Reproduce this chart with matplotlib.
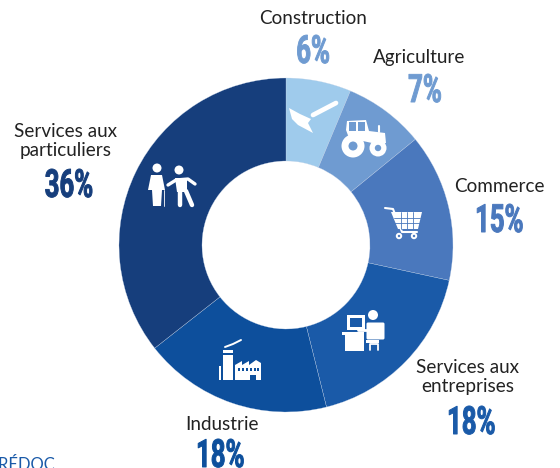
import matplotlib
matplotlib.use('Agg')
import matplotlib.pyplot as plt
from matplotlib.patches import Circle, Polygon, Rectangle, FancyBboxPatch
from matplotlib.patheffects import AbstractPathEffect
from matplotlib.transforms import Affine2D

# parts measured on the ring, the printed labels are rounded
sectors = ['Construction', 'Agriculture', 'Commerce', 'Services aux\nentreprises', 'Industrie', 'Services aux\nparticuliers']
shares = [6.3, 7.8, 14.3, 17.7, 18.3, 35.6]
percent_labels = ['6%', '7%', '15%', '18%', '18%', '36%']
colors = ['#9fcbec', '#6f9bd1', '#4a78bd', '#1a5aa8', '#0d4f9c', '#163e7c']
text_colors = ['#6f9bd1', '#6f9bd1', '#4a78bd', '#1a5aa8', '#0d4f9c', '#163e7c']

H = 468
WHITE = 'white'


class Narrow(AbstractPathEffect):
    # no condensed font installed, so squeeze the glyphs around their middle and thicken them a bit
    def __init__(self, factor, extra):
        super().__init__()
        self.factor = factor
        self.extra = extra

    def draw_path(self, renderer, gc, tpath, affine, rgbFace=None):
        mid = tpath.get_extents().x0 + tpath.get_extents().width / 2
        squeeze = Affine2D().translate(-mid, 0).scale(self.factor, 1).translate(mid, 0)
        gc0 = renderer.new_gc()
        gc0.copy_properties(gc)
        gc0.set_foreground(gc.get_rgb(), isRGBA=True)
        gc0.set_linewidth(self.extra)
        renderer.draw_path(gc0, tpath, squeeze + affine, rgbFace)
        gc0.restore()


fig = plt.figure(figsize=(5.6, 4.68), dpi=100)
ax = fig.add_axes([0, 0, 1, 1])

ax.pie(shares, colors=colors, startangle=90, counterclock=False, center=(286, H - 245), radius=167,
       wedgeprops=dict(width=83, edgecolor='#c8d6ea', linewidth=0.2))
ax.set_xlim(0, 560)
ax.set_ylim(0, H)
ax.set_aspect('equal')
ax.axis('off')


def poly(points, color=WHITE):
    ax.add_patch(Polygon([(x, H - y) for x, y in points], closed=True, fc=color, ec='none', zorder=5))


def rect(x, y, w, h, color=WHITE):
    ax.add_patch(Rectangle((x, H - y - h), w, h, fc=color, ec='none', zorder=5))


def disc(x, y, r, color=WHITE):
    ax.add_patch(Circle((x, H - y), r, fc=color, ec='none', zorder=6))


def stroke(points, lw=2.0, color=WHITE):
    ax.plot([p[0] for p in points], [H - p[1] for p in points], color=color, lw=lw,
            solid_capstyle='round', solid_joinstyle='round', zorder=5)


# hoe
stroke([(313, 115), (336, 103)], lw=3.4)
poly([(289, 108), (300, 114), (311, 119), (308, 123), (313, 133), (298, 125), (292, 119)])

# tractor
poly([(347, 121), (366, 120), (369, 131), (385, 133), (386, 143), (372, 143), (349, 138), (346, 130)])
stroke([(379, 126), (379, 132)], lw=1.5)
rect(349, 122, 7, 9, '#6f9bd1')
rect(358, 122, 7, 9, '#6f9bd1')
disc(353, 146, 11.5)
disc(353, 146, 4.5, '#6f9bd1')
disc(378, 148, 8.5)
disc(378, 148, 3.2, '#6f9bd1')

# cart
stroke([(385, 208), (393, 209), (402, 232), (417, 232)], lw=1.5)
poly([(391, 212), (422, 212), (418, 229), (398, 229)])
for gx in (401, 407, 413):
    stroke([(gx, 212), (gx, 229)], lw=0.6, color='#4a78bd')
for gy in (218, 223):
    stroke([(394, gy), (420, gy)], lw=0.6, color='#4a78bd')
disc(399, 236, 3.2)
disc(414, 236, 3.2)
disc(399, 236, 1.2, '#4a78bd')
disc(414, 236, 1.2, '#4a78bd')

# desk worker
disc(373, 315, 5)
rect(347, 315, 18, 15)
rect(350, 318, 12, 9, '#1a5aa8')
rect(342, 332, 22, 3)
rect(345, 335, 19, 16)
ax.add_patch(FancyBboxPatch((368, H - 338), 15, 14, boxstyle='round,pad=1.5', fc=WHITE, ec='none', zorder=5))
stroke([(358, 330), (369, 330)], lw=2)
rect(366, 340, 13, 3)
stroke([(370, 350), (370, 344), (378, 344), (378, 350)], lw=1.3)

# factory
stroke([(225, 347), (233, 344), (241, 340)], lw=1.4)
rect(223, 350, 10, 3)
rect(223, 355, 10, 25)
rect(219, 366, 2, 14)
poly([(235, 380), (235, 365), (242, 361), (242, 365), (249, 361), (249, 365), (256, 360), (261, 363), (261, 380)])
for wx in (238, 242, 246, 250, 254, 257):
    rect(wx, 368, 2, 2.5, '#0d4f9c')
rect(250, 375, 6, 5, '#0d4f9c')

# two people
disc(157, 168, 4.5)
poly([(151, 175), (162, 175), (165, 190), (162, 190), (161, 206), (153, 206), (152, 190), (148, 190)])
stroke([(164, 190), (164, 206)], lw=0.6)
disc(179, 170, 4.5)
stroke([(168, 185), (176, 180), (188, 179), (195, 184)], lw=2.4)
poly([(175, 178), (187, 178), (187, 192), (177, 192)])
stroke([(180, 191), (180, 205)], lw=3.2)
stroke([(186, 191), (192, 205)], lw=3.2)

# labels: middle x, y of the name, baseline y of the percent
label_x = [313, 419, 499, 468, 222, 66]
name_y = [19, 57, 187, 377, 424, 141]
percent_y = [63, 102, 232, 434, 467, 197]
percent_x = [313, 425, 499, 471, 220, 69]
label_font = ['Lato', 'Noto Sans', 'DejaVu Sans']
percent_font = ['Roboto', 'DejaVu Sans']

for i, name in enumerate(sectors):
    ax.text(label_x[i], H - name_y[i], name, ha='center', va='center', fontsize=13.6, color='#222222',
            family=label_font, linespacing=1.13)
    t = ax.text(percent_x[i], H - percent_y[i], percent_labels[i], ha='center', va='baseline', fontsize=28,
                color=text_colors[i], family=percent_font, fontweight='bold')
    t.set_path_effects([Narrow(0.66, 0.7)])

# source line, cut by the bottom edge
ax.text(55, H - 465, 'CRÉDOC', ha='right', va='center', fontsize=12, color='#1a5aa8', family=label_font)

fig.savefig('out.png', dpi=100, facecolor='white')
